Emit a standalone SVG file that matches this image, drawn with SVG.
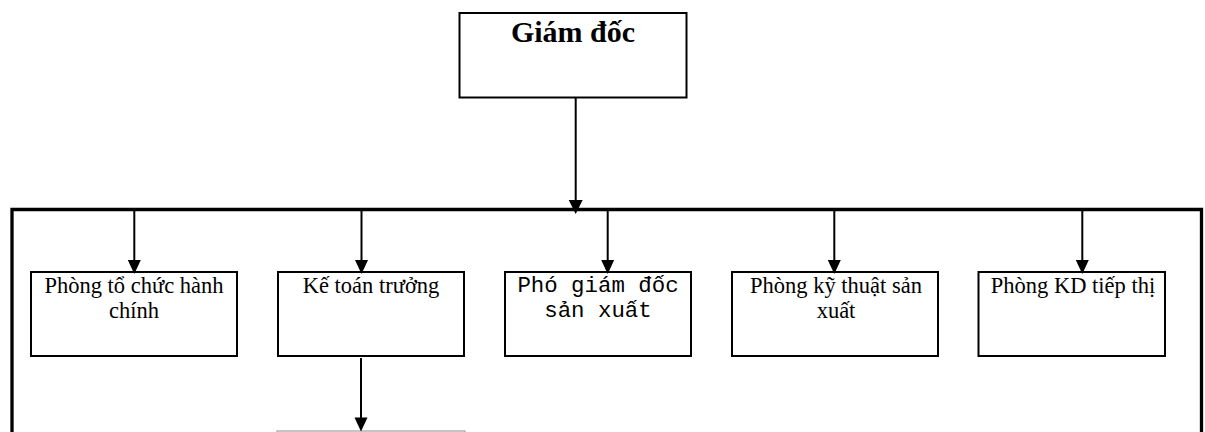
<svg xmlns="http://www.w3.org/2000/svg" xmlns:xlink="http://www.w3.org/1999/xlink" width="1205" height="432" viewBox="0 0 1205 432">
  <style>
    .box { fill: #ffffff; stroke: #000000; stroke-width: 2; }
    .serif { font-family: "Liberation Serif", "Times New Roman", serif; font-size: 22.5px; fill: #000; text-anchor: middle; }
    .mono { font-family: "Liberation Mono", "Courier New", monospace; font-size: 22.4px; fill: #000; text-anchor: middle; }
    .conn { stroke: #000; stroke-width: 2; fill: none; }
    .frame { stroke: #000; stroke-width: 3.3; fill: none; }
    .head { fill: #000; stroke: none; }
  </style>
  <defs>
    <path id="ah" class="head" d="M-7,-14 L7,-14 L0,0 Z"/>
    <path id="ahs" class="head" d="M-6.5,-14 L6.5,-14 L0,0 Z"/>
  </defs>

  <g id="frame">
    <path class="frame" d="M12,432 L12,209.5 L1201.5,209.5 L1201.5,432"/>
  </g>

  <g id="giam-doc">
    <rect class="box" x="459.5" y="13" width="227" height="84.5"/>
    <text x="573" y="42" font-family="Liberation Serif, Times New Roman, serif" font-size="30" font-weight="bold" text-anchor="middle">Giám đốc</text>
  </g>

  <g id="phong-to-chuc">
    <rect class="box" x="31" y="272" width="206" height="84"/>
    <text class="serif" x="134" y="293">Phòng tổ chức hành</text>
    <text class="serif" x="134" y="318">chính</text>
  </g>

  <g id="ke-toan-truong">
    <rect class="box" x="278" y="272" width="186" height="84"/>
    <text class="serif" x="371" y="293">Kế toán trưởng</text>
  </g>

  <g id="pho-giam-doc">
    <rect class="box" x="505" y="272" width="186" height="84"/>
    <text class="mono" x="598" y="292">Phó giám đốc</text>
    <text class="mono" x="598" y="316.5">sản xuất</text>
  </g>

  <g id="phong-ky-thuat">
    <rect class="box" x="732" y="272" width="206" height="84"/>
    <text class="serif" x="836" y="293">Phòng kỹ thuật sản</text>
    <text class="serif" x="836" y="318">xuất</text>
  </g>

  <g id="phong-kd">
    <rect class="box" x="978.5" y="272" width="186.5" height="84"/>
    <text class="serif" x="1073" y="293">Phòng KD tiếp thị</text>
  </g>

  <g id="bottom-node">
    <rect x="277" y="431" width="188" height="60" fill="#fff" stroke="#a0a0a0" stroke-width="1.2"/>
  </g>

  <g id="connectors">
    <line class="conn" x1="575.7" y1="97.5" x2="575.7" y2="202"/>
    <use xlink:href="#ah" href="#ah" x="575.7" y="214"/>
    <line class="conn" x1="134.3" y1="209.5" x2="134.3" y2="262"/>
    <use xlink:href="#ahs" href="#ahs" x="134.3" y="274"/>
    <line class="conn" x1="361.5" y1="209.5" x2="361.5" y2="262"/>
    <use xlink:href="#ahs" href="#ahs" x="361.5" y="274"/>
    <line class="conn" x1="607.7" y1="209.5" x2="607.7" y2="262"/>
    <use xlink:href="#ahs" href="#ahs" x="607.7" y="274"/>
    <line class="conn" x1="834.3" y1="209.5" x2="834.3" y2="262"/>
    <use xlink:href="#ahs" href="#ahs" x="834.3" y="274"/>
    <line class="conn" x1="1082.3" y1="209.5" x2="1082.3" y2="262"/>
    <use xlink:href="#ahs" href="#ahs" x="1082.3" y="274"/>
    <line class="conn" x1="361" y1="358" x2="361" y2="420"/>
    <use xlink:href="#ahs" href="#ahs" x="361" y="431.5"/>
  </g>
</svg>
